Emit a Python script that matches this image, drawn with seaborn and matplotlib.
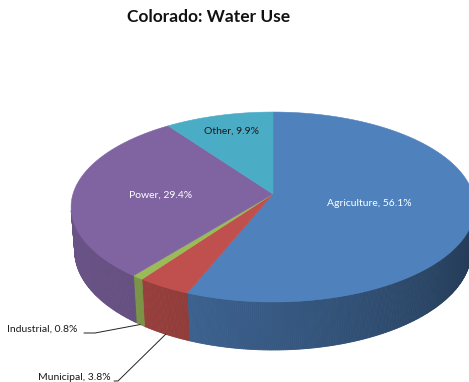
import numpy as np
import matplotlib
matplotlib.use("Agg")
import matplotlib.pyplot as plt
import seaborn as sns
from matplotlib.patches import Polygon

# ---- data ----
categories = ["Agriculture", "Municipal", "Industrial", "Power", "Other"]
shares = [56.1, 3.8, 0.8, 29.4, 9.9]
labels = ["Agriculture, 56.1%", "Municipal, 3.8%", "Industrial, 0.8%", "Power, 29.4%", "Other, 9.9%"]
title = "Colorado: Water Use"
hex_colors = ["#4F81BD", "#C0504D", "#9BBB59", "#8064A2", "#4BACC6"]

sns.set_style("white")
plt.rcParams['font.family'] = ['Lato', 'DejaVu Sans']
colors = sns.color_palette(hex_colors)

# ---- 3D pie geometry (perspective projection) ----
CX, CY = 273, 194
K = 1292.0
D = 6.46
E = np.arcsin(0.466)
H = 0.25
se, ce = np.sin(E), np.cos(E)


def proj(x, y, z):
    depth = D + y * ce - z * se
    up = y * se + z * ce
    return CX + K * x / depth, CY - K * up / depth


fig = plt.figure(figsize=(4.69, 3.82), dpi=100)
ax = fig.add_axes([0, 0, 1, 1])
ax.set_xlim(0, 469)
ax.set_ylim(382, 0)
ax.axis("off")

vals = np.array(shares, dtype=float)
cum = np.concatenate([[0], np.cumsum(vals) / vals.sum() * 360.0])
vis_lim = -1.0 / (D * ce)

# side walls
for i in range(len(vals)):
    th0 = np.deg2rad(90 - cum[i])
    th1 = np.deg2rad(90 - cum[i + 1])
    n = max(4, int(abs(cum[i + 1] - cum[i]) * 2))
    t = np.linspace(th0, th1, n + 1)
    base = np.array(colors[i])
    for a, b in zip(t[:-1], t[1:]):
        m = 0.5 * (a + b)
        if np.sin(m) >= vis_lim:
            continue
        phi = np.rad2deg(m) % 360
        f = 0.62 + 0.2 * np.cos(np.deg2rad(phi - 200))
        col = np.clip(base * f, 0, 1)
        x1, y1 = proj(np.cos(a), np.sin(a), 0)
        x2, y2 = proj(np.cos(b), np.sin(b), 0)
        x3, y3 = proj(np.cos(b), np.sin(b), -H)
        x4, y4 = proj(np.cos(a), np.sin(a), -H)
        ax.add_patch(Polygon([(x1, y1), (x2, y2), (x3, y3), (x4, y4)],
                             closed=True, facecolor=col, edgecolor=col, lw=0.6, zorder=1))

# top faces
for i in range(len(vals)):
    th0 = np.deg2rad(90 - cum[i])
    th1 = np.deg2rad(90 - cum[i + 1])
    n = max(4, int(abs(cum[i + 1] - cum[i]) * 2))
    t = np.linspace(th0, th1, n + 1)
    xs, ys = proj(np.cos(t), np.sin(t), 0 * t)
    pts = [(CX, CY)] + list(zip(xs, ys))
    ax.add_patch(Polygon(pts, closed=True, facecolor=colors[i], edgecolor=colors[i],
                         lw=0.4, zorder=2))

# labels on slices
fs = 7.5
ax.text(369, 204, labels[0], color="white", fontsize=fs, ha="center", va="center", zorder=5)
ax.text(161, 195, labels[3], color="white", fontsize=fs, ha="center", va="center", zorder=5)
ax.text(231, 131, labels[4], color="#1a1a1a", fontsize=fs, ha="center", va="center", zorder=5)

# outside labels with leader lines
def anchor(i):
    mid = np.deg2rad(90 - 0.5 * (cum[i] + cum[i + 1]))
    return proj(np.cos(mid), np.sin(mid), -H)

ax.text(7, 329, labels[2], color="#1a1a1a", fontsize=fs, ha="left", va="center", zorder=5)
axp, ayp = anchor(2)
ax.plot([84, 95, axp], [333, 333, ayp], color="#222222", lw=0.7, zorder=4)

ax.text(38, 378, labels[1], color="#1a1a1a", fontsize=fs, ha="left", va="center", zorder=5)
axp, ayp = anchor(1)
ax.plot([114, 118, axp], [381, 381, ayp], color="#222222", lw=0.7, zorder=4)

ax.text(209, 17, title, fontsize=12.5, fontweight="bold", ha="center", va="center", color="#111111")

fig.savefig("out.png", dpi=100)
